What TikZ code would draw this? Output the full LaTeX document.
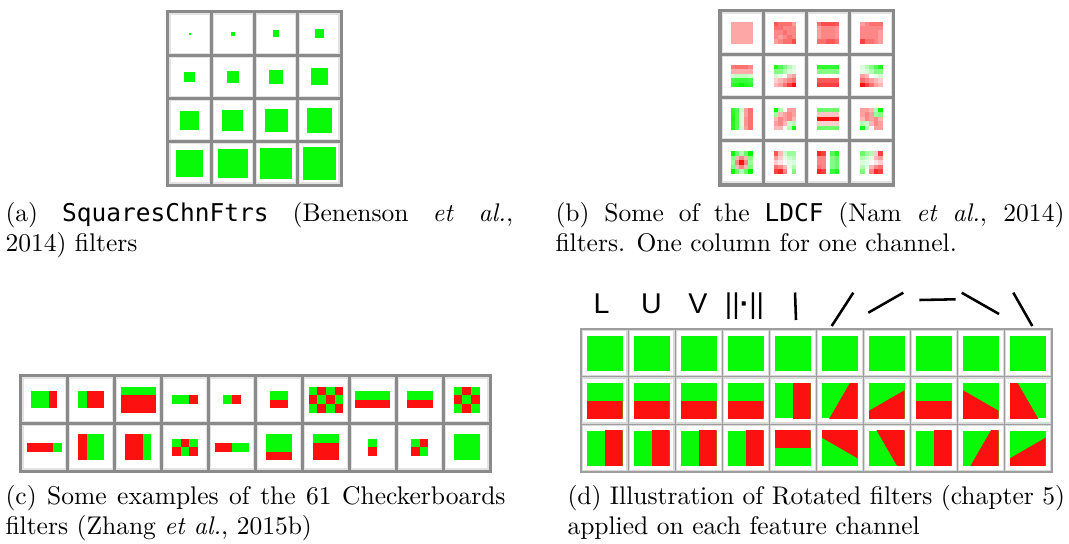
\documentclass[tikz,border=0pt]{standalone}
\usepackage{fontspec}
\newfontfamily\codefont{DejaVu Sans Mono}[Scale=0.96]
\newfontfamily\labelfont{Liberation Sans}
\definecolor{fgreen}{RGB}{8,250,8}
\definecolor{fred}{RGB}{252,16,16}
\definecolor{framegray}{RGB}{138,138,138}
\definecolor{rotgray}{RGB}{158,158,158}

% checkerboard centred on the origin, top-left block green
\newcommand\chk[2]{%
  \foreach \i in {1,...,#1}
    \foreach \j in {1,...,#2}{
      \pgfmathtruncatemacro\chkodd{mod(\i+\j,2)}
      \ifnum\chkodd=0 \def\blkcol{fgreen}\else\def\blkcol{fred}\fi
      \fill[\blkcol] (\i-1-#1/2,\j-1-#2/2) rectangle ++(1,1);
    }}

% one cell of the checkerboards panel, #3 drawn in filter units
\newcommand\cbcell[3]{%
  \draw[cell] (23+46.9*#1,378+47.5*#2) rectangle ++(42.9,43.5);
  \begin{scope}[shift={(44.45+46.9*#1,399.75+47.5*#2)},x=3.4pt,y=-3.4pt]
    #3
  \end{scope}}

\begin{document}
\begin{tikzpicture}[x=0.392pt,y=-0.392pt,
    cell/.style={fill=white,draw=gray!22,line width=0.4pt},
    capt/.style={anchor=north west,inner sep=0pt,align=justify,font=\fontsize{10}{11.8}\selectfont},
    chlabel/.style={anchor=base,inner sep=0pt,font=\labelfont\fontsize{11.2}{13}\selectfont},
    orient/.style={line width=1pt}]
  \useasboundingbox (0,0) rectangle (1069,543);

  % (a) squares of growing size
  \fill[framegray] (166,10) rectangle (343,187);
  \foreach \r in {0,...,3}
    \foreach \c in {0,...,3}{
      \draw[cell] (170+43.25*\c,14+43.25*\r) rectangle ++(39.25,39.25);
      \pgfmathsetmacro\sq{2.1*(4*\r+\c+1)}
      \fill[fgreen] (189.625+43.25*\c-\sq/2,33.625+43.25*\r-\sq/2) rectangle ++(\sq,\sq);
    }
  \node[capt,text width=199pt] (capa) at (5,202)
    {(a) {\codefont SquaresChnFtrs} (Benenson \textit{et al.},\linebreak 2014) filters};

  % (b) LDCF filters, 5x5 blocks, + green / - red
  \fill[framegray] (718,9) rectangle (895,186.5);
  \foreach \r in {0,...,3}
    \foreach \c in {0,...,3}
      \draw[cell] (722+43.25*\c,13+43.25*\r) rectangle ++(39.25,39.25);
  \foreach \vals [count=\k from 0] in {
      {-.37,-.37,-.37,-.37,-.37,-.37,-.37,-.37,-.37,-.37,-.37,-.37,-.37,-.37,-.37,-.37,-.37,-.37,-.37,-.37,-.37,-.37,-.37,-.37,-.37},
      {-.7,-.6,-.6,-.6,-.4,-.6,-.6,-.5,-.5,-.5,-.5,-.5,-.6,-.5,-.5,-.5,-.4,-.5,-.6,-.5,-.4,-.5,-.6,-.6,-.75},
      {-.6,-.75,-.75,-.75,-.7,-.4,-.5,-.5,-.5,-.45,-.4,-.5,-.5,-.5,-.45,-.4,-.5,-.5,-.5,-.45,-.6,-.6,-.7,-.7,-.6},
      {-.4,-.5,-.6,-.6,-.6,-.5,-.5,-.5,-.5,-.5,-.5,-.5,-.5,-.5,-.4,-.5,-.5,-.5,-.5,-.4,-.8,-.6,-.6,-.5,-.4},
      {-.55,-.6,-.6,-.6,-.5,-.35,-.35,-.35,-.35,-.35,.2,.25,.25,.25,.2,.75,.8,.8,.8,.75,.85,.9,1,.9,.85},
      {.9,.7,.5,.3,.15,.5,.5,.3,.15,.1,.2,.1,0,-.3,-.4,-.2,-.3,-.4,-.5,-.6,-.3,-.4,-.6,-.8,-1},
      {.85,.85,.85,.85,.85,.5,.5,.5,.5,.5,0,0,0,0,0,-.7,-.7,-.7,-.7,-.7,-.8,-.8,-.8,-.8,-.8},
      {.15,.3,.5,.7,.9,.1,.15,.3,.5,.5,-.4,-.3,0,.1,.2,-.6,-.5,-.4,-.3,-.2,-1,-.8,-.6,-.4,-.3},
      {.85,.7,.2,-.4,-.6,.9,.7,.15,-.4,-.6,.95,.7,.15,-.45,-.6,.9,.7,.15,-.45,-.6,.9,.7,.2,-.4,-.6},
      {1,.3,0,-.4,-.4,.4,-.3,-.4,-.5,-.4,-.3,-.5,-.4,-.5,-.3,-.4,-.5,-.3,.2,.3,-.3,-.3,.05,.3,.95},
      {.6,.6,.6,.6,.6,-.25,-.25,-.25,-.25,-.25,-1,-1,-1,-1,-1,-.2,-.2,-.2,-.2,-.2,.6,.6,.6,.6,.6},
      {-.4,-.4,-.3,.3,1,-.4,-.5,-.4,.4,.5,-.3,-.5,-.4,-.5,-.3,.3,.2,-.3,-.5,-.4,.95,.3,0,-.4,-.4},
      {1,.6,.3,.6,1,.5,-.3,-.5,-.3,.5,.4,-.5,-1,-.5,.4,.5,-.3,-.5,-.3,.5,1,.6,.3,.6,1},
      {-.7,-.3,.2,.4,.4,-.4,-.2,.1,.2,.3,-.2,-.1,0,.1,.15,-.6,-.5,-.3,.1,.3,-.8,-.9,-.5,0,.5},
      {-.9,-.8,0,.7,.9,-.5,-.5,0,.5,.6,-.5,-.5,0,.5,.6,-.6,-.5,0,.5,.6,-.9,-.8,0,.8,.9},
      {.6,.4,.3,-.2,-.8,.3,.2,.1,-.3,-.4,.15,.1,0,-.1,-.2,.3,.1,-.3,-.5,-.6,.5,0,-.5,-.9,-.8}}{
    \pgfmathtruncatemacro\fr{int(\k/4)}
    \pgfmathtruncatemacro\fc{mod(\k,4)}
    \foreach \v [count=\j from 0] in \vals {
      \pgfmathtruncatemacro\br{int(\j/5)}
      \pgfmathtruncatemacro\bc{mod(\j,5)}
      \pgfmathsetmacro\amt{abs(\v)*100}
      \ifdim\v pt<0pt \colorlet{blk}{fred!\amt!white}\else\colorlet{blk}{fgreen!\amt!white}\fi
      \fill[blk] (730.5+43.25*\fc+4.45*\bc,21.5+43.25*\fr+4.45*\br) rectangle ++(4.55,4.55);
    }}
  \node[capt,text width=199.5pt] (capb) at (555,202)
    {(b) Some of the {\codefont LDCF} (Nam \textit{et al.}, 2014)\linebreak filters. One column for one channel.};

  % (c) checkerboards filters
  \fill[framegray] (19,374) rectangle (492,473);
  \cbcell{0}{0}{\fill[fgreen] (-1.5,-1) rectangle (0.5,1); \fill[fred] (0.5,-1) rectangle (1.5,1);}
  \cbcell{1}{0}{\fill[fgreen] (-1.5,-1) rectangle (-0.5,1); \fill[fred] (-0.5,-1) rectangle (1.5,1);}
  \cbcell{2}{0}{\fill[fgreen] (-2,-1.5) rectangle (2,-0.5); \fill[fred] (-2,-0.5) rectangle (2,1.5);}
  \cbcell{3}{0}{\fill[fgreen] (-1.5,-0.5) rectangle (0.5,0.5); \fill[fred] (0.5,-0.5) rectangle (1.5,0.5);}
  \cbcell{4}{0}{\fill[fgreen] (-1,-0.5) rectangle (0,0.5); \fill[fred] (0,-0.5) rectangle (1,0.5);}
  \cbcell{5}{0}{\fill[fgreen] (-1,-1) rectangle (1,0); \fill[fred] (-1,0) rectangle (1,1);}
  \cbcell{6}{0}{\chk{4}{3}}
  \cbcell{7}{0}{\fill[fgreen] (-2,-1) rectangle (2,0); \fill[fred] (-2,0) rectangle (2,1);}
  \cbcell{8}{0}{\fill[fgreen] (-1.5,-1) rectangle (1.5,0); \fill[fred] (-1.5,0) rectangle (1.5,1);}
  \cbcell{9}{0}{\chk{3}{3}}
  \cbcell{0}{1}{\fill[fred] (-2,-0.5) rectangle (1,0.5); \fill[fgreen] (1,-0.5) rectangle (2,0.5);}
  \cbcell{1}{1}{\fill[fred] (-1.5,-1.5) rectangle (-0.5,1.5); \fill[fgreen] (-0.5,-1.5) rectangle (1.5,1.5);}
  \cbcell{2}{1}{\fill[fred] (-1.5,-1.5) rectangle (0.5,1.5); \fill[fgreen] (0.5,-1.5) rectangle (1.5,1.5);}
  \cbcell{3}{1}{\chk{3}{2}}
  \cbcell{4}{1}{\fill[fred] (-2,-0.5) rectangle (0,0.5); \fill[fgreen] (0,-0.5) rectangle (2,0.5);}
  \cbcell{5}{1}{\fill[fgreen] (-1.5,-1.5) rectangle (1.5,0.5); \fill[fred] (-1.5,0.5) rectangle (1.5,1.5);}
  \cbcell{6}{1}{\fill[fgreen] (-1.5,-1.5) rectangle (1.5,-0.5); \fill[fred] (-1.5,-0.5) rectangle (1.5,1.5);}
  \cbcell{7}{1}{\fill[fgreen] (-0.5,-1) rectangle (0.5,0); \fill[fred] (-0.5,0) rectangle (0.5,1);}
  \cbcell{8}{1}{\chk{2}{2}}
  \cbcell{9}{1}{\fill[fgreen] (-1.5,-1.5) rectangle (1.5,1.5);}
  \node[capt,text width=196pt] (capc) at (5,485)
    {(c) Some examples of the 61 Checkerboards\linebreak filters (Zhang \textit{et al.}, 2015b)};

  % (d) rotated filters, one column per channel
  \fill[rotgray] (580,328) rectangle (1052.5,473);
  \foreach \c in {0,...,9}
    \foreach \r in {0,1,2}{
      \draw[cell,draw=gray!30] (582.5+47*\c,330.5+47.5*\r) rectangle ++(44.5,45);
      \pgfmathsetmacro\cx{604.75+47*\c}
      \pgfmathsetmacro\cy{353+47.5*\r}
      \fill[fgreen] (\cx-17.75,\cy-17.5) rectangle (\cx+17.75,\cy+17.5);
      \ifnum\r>0
        \pgfmathsetmacro\ang{\r==1 ? (\c<4 ? -90 : -30*(\c-4)) : (\c<4 ? 0 : 90-30*(\c-4))}
        \begin{scope}
          \clip (\cx-17.75,\cy-17.5) rectangle (\cx+17.75,\cy+17.5);
          \fill[fred,rotate around={\ang:(\cx,\cy)}] (\cx,\cy-30) rectangle (\cx+30,\cy+30);
        \end{scope}
      \fi
    }
  \node[chlabel] (chL) at (601.5,313) {L};
  \node[chlabel] (chU) at (651.5,313) {U};
  \node[chlabel] (chV) at (698,313) {V};
  \node[chlabel] (chM) at (744.5,313) {||{\bfseries ·}||};
  \draw[orient] (795,292.5) -- (796,320);
  \draw[orient] (831.7,326) -- (853.3,292.7);
  \draw[orient] (868.3,312.7) -- (903.3,292.7);
  \draw[orient] (919.3,300) -- (955.7,299.3);
  \draw[orient] (961.7,292.7) -- (999,314);
  \draw[orient] (1013.3,292.7) -- (1032.3,326);
  \node[capt,text width=195pt] (capd) at (567,485)
    {(d) Illustration of Rotated filters (chapter 5)\linebreak applied on each feature channel};
\end{tikzpicture}
\end{document}
